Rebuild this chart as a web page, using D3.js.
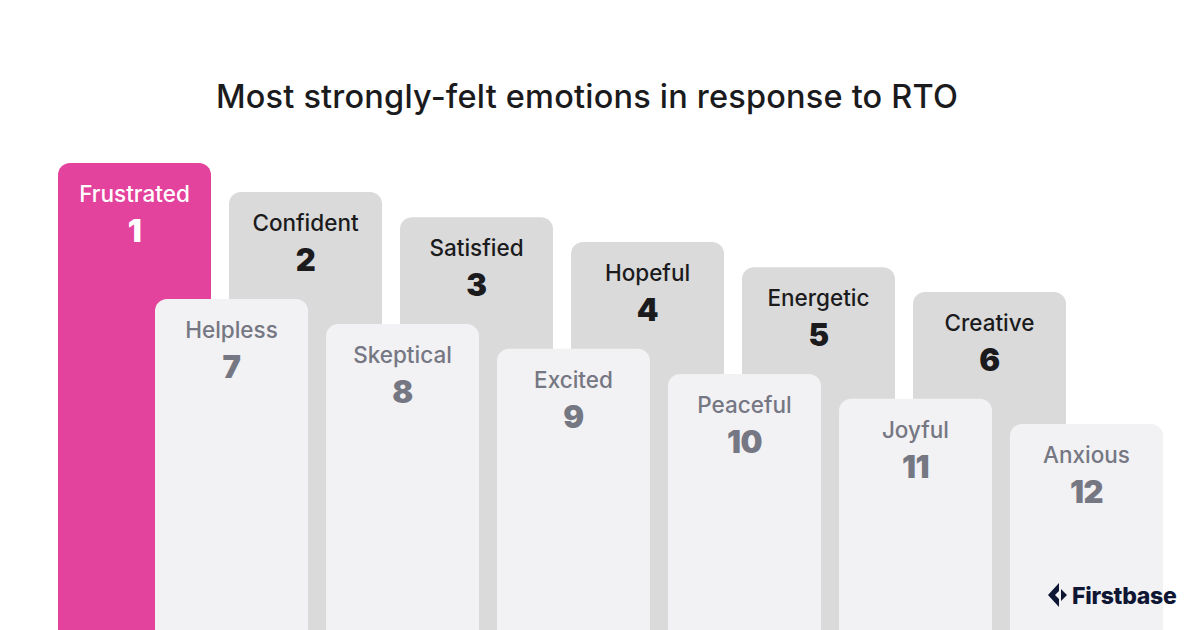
<!DOCTYPE html>
<html>
<head>
<meta charset="utf-8">
<script src="https://cdn.jsdelivr.net/npm/d3@7"></script>
<style>
  html, body { margin: 0; padding: 0; background: #ffffff; }
  svg { display: block; font-family: "Inter", "Liberation Sans", sans-serif; }
</style>
</head>
<body>
<script>
// dados do grafico
const emotions = ["Frustrated", "Confident", "Satisfied", "Hopeful", "Energetic", "Creative",
                  "Helpless", "Skeptical", "Excited", "Peaceful", "Joyful", "Anxious"];
const ranks = [1, 2, 3, 4, 5, 6, 7, 8, 9, 10, 11, 12];
// altura relativa de cada barra
const scores = [100, 93.8, 88.4, 83.1, 77.7, 72.4, 70.9, 65.5, 60.2, 54.8, 49.5, 44.1];
const titulo = "Most strongly-felt emotions in response to RTO";

const largura = 1200, altura = 630;

const svg = d3.select("body").append("svg")
    .attr("width", largura)
    .attr("height", altura);

// titulo
svg.append("text")
    .attr("x", 587)
    .attr("y", 108)
    .attr("text-anchor", "middle")
    .attr("font-size", 32.5)
    .attr("font-weight", 500)
    .attr("letter-spacing", 0.2)
    .attr("fill", "#1b1b1d")
    .text(titulo);

const dados = emotions.map((e, i) => ({
    emotion: e,
    rank: ranks[i],
    score: scores[i],
    fila: i < 6 ? "tras" : "frente",
    coluna: i % 6
}));

// escalas
const x = d3.scaleBand()
    .domain(d3.range(6))
    .range([58, 1066])
    .paddingInner(0.1053);
const deslocFrente = 97;

const y = d3.scaleLinear()
    .domain([0, 100])
    .range([altura, 163]);

const cores = {
    destaque: { fill: "#e3429d", label: "#ffffff", num: "#ffffff" },
    tras: { fill: "#dadada", label: "#1b1b1d", num: "#1b1b1d" },
    frente: { fill: "#f2f1f4", label: "#757783", num: "#757783" }
};

function corDe(d) {
    if (d.rank === 1) return cores.destaque;
    return cores[d.fila];
}

// desenha fila de tras primeiro, depois a da frente
const grupos = svg.selectAll("g.barra")
    .data(dados)
    .join("g")
    .attr("class", "barra")
    .attr("transform", d => {
        const bx = x(d.coluna) + (d.fila === "frente" ? deslocFrente : 0);
        return "translate(" + bx + "," + y(d.score) + ")";
    });

grupos.append("rect")
    .attr("width", x.bandwidth())
    .attr("height", d => altura - y(d.score) + 30)
    .attr("rx", 12)
    .attr("fill", d => corDe(d).fill);

grupos.append("text")
    .attr("x", x.bandwidth() / 2)
    .attr("y", 39)
    .attr("text-anchor", "middle")
    .attr("font-size", 22.5)
    .attr("font-weight", 500)
    .attr("fill", d => corDe(d).label)
    .text(d => d.emotion);

grupos.append("text")
    .attr("x", x.bandwidth() / 2)
    .attr("y", 79)
    .attr("text-anchor", "middle")
    .attr("font-size", 31)
    .attr("font-weight", 900)
    .attr("letter-spacing", -0.5)
    .attr("fill", d => corDe(d).num)
    .text(d => d.rank);

// logo Firstbase
const logo = svg.append("g").attr("transform", "translate(1048,595)");
logo.append("path")
    .attr("d", "M0,0 L11,-12 L11,-4 L7,0 L11,4 L11,12 Z M13,-6 L19,0 L13,6 Z")
    .attr("fill", "#0e1633");
logo.append("text")
    .attr("x", 24)
    .attr("y", 8.5)
    .attr("font-size", 23)
    .attr("font-weight", 800)
    .attr("letter-spacing", -0.3)
    .attr("fill", "#0e1633")
    .text("Firstbase");
</script>
</body>
</html>
